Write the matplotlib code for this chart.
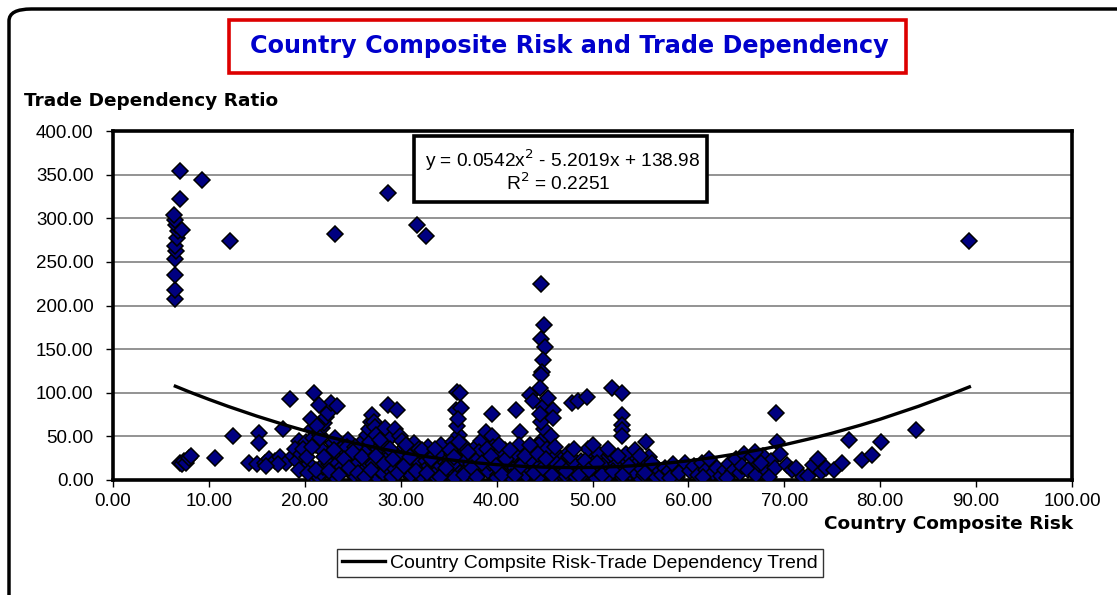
import matplotlib
matplotlib.use("Agg")
import matplotlib.pyplot as plt
from matplotlib.patches import FancyBboxPatch, Rectangle

plt.rcParams['font.family'] = ['Liberation Sans', 'DejaVu Sans']

# ---------------- data ----------------
high_x = [6.5, 6.5, 6.5, 6.5, 6.6, 6.5, 6.7, 6.8, 6.6, 6.5, 6.4, 7.2, 7.0, 7.0,
          9.3, 12.2, 23.2, 28.7, 31.7, 32.6, 44.6, 44.9, 44.6, 45.0, 44.8, 44.7, 44.6, 89.3]
high_y = [208, 218, 235, 253, 262, 268, 277, 285, 292, 298, 304, 286, 322, 354,
          344, 274, 282, 329, 292, 280, 225, 178, 162, 152, 138, 124, 120, 274]

left_x = [7.0, 7.2, 7.4, 7.6, 7.9, 8.1, 10.6, 12.5, 14.2, 15.0, 15.2, 15.2, 15.8, 16.3,
          16.9, 17.4, 17.7, 18.0, 18.5, 18.8, 19.4, 19.0, 17.2, 16.0]
left_y = [20, 18, 22, 19, 25, 27, 25, 50, 19, 18, 54, 42, 20, 24,
          22, 26, 58, 20, 93, 28, 45, 35, 18, 16]

main_x = [19.2, 19.6, 20.1, 20.4, 20.8, 19.8, 20.6, 19.4, 20.2, 20.9,
          21.1, 21.3, 21.5, 21.7, 21.9, 22.1, 22.3, 22.6, 22.8, 21.2, 21.4, 21.6, 21.8, 22.0,
          22.2, 22.4, 22.7, 21.0, 21.5, 22.1, 22.5, 21.9, 21.3, 22.9,
          23.1, 23.3, 23.5, 23.8, 24.0, 24.2, 24.5, 24.7, 24.9, 23.4, 23.9, 24.4, 23.2, 24.8,
          25.1, 25.3, 25.6, 25.8, 26.0, 26.2, 26.5, 26.7, 26.9, 25.4, 25.9, 26.4, 26.8, 25.2,
          26.1, 26.6,
          27.0, 27.2, 27.3, 27.5, 27.7, 27.9, 28.1, 28.3, 28.5, 28.7, 28.9, 27.1, 27.6, 28.0,
          28.4, 28.8, 27.4, 28.2, 28.6, 28.7,
          29.1, 29.3, 29.6, 29.8, 30.0, 30.2, 30.5, 30.7, 30.9, 29.4, 29.9, 30.4, 30.8, 29.6,
          30.1,
          31.1, 31.3, 31.5, 31.8, 32.0, 32.3, 32.5, 32.8, 31.4, 32.1, 32.6, 31.9, 32.9,
          33.1, 33.4, 33.7, 34.0, 34.3, 34.6, 34.9, 33.5, 34.2, 34.8, 33.9, 34.5,
          35.2, 35.4, 35.6, 35.9, 36.2, 36.4, 36.6, 36.9, 35.8, 36.3, 35.5, 36.1, 36.7, 35.9,
          36.2, 35.3, 36.5, 35.7, 36.8, 36.0,
          37.1, 37.3, 37.6, 37.9, 38.1, 38.4, 38.7, 38.9, 37.5, 38.2, 38.6, 37.8,
          39.1, 39.3, 39.5, 39.5, 39.8, 40.1, 40.4, 40.7, 40.9, 39.6, 40.3, 40.8, 40.0,
          41.1, 41.3, 41.6, 41.9, 42.0, 42.2, 42.4, 42.7, 42.9, 41.5, 42.3, 42.8, 41.8,
          43.1, 43.3, 43.5, 43.8, 44.0, 44.2, 44.5, 44.7, 44.9, 43.6, 44.1, 44.6, 43.9, 44.4,
          44.8, 44.5, 43.4, 44.3,
          45.1, 45.4, 45.6, 45.9, 45.9, 46.2, 46.5, 46.8, 45.3, 46.0, 46.6, 45.7, 46.3,
          47.1, 47.3, 47.6, 47.9, 48.2, 48.5, 48.8, 47.5, 48.3, 48.0, 48.7,
          49.1, 49.4, 49.7, 50.0, 50.3, 50.6, 50.9, 49.5, 50.4, 49.9, 50.7,
          51.1, 51.4, 51.7, 52.0, 52.3, 52.6, 52.9, 51.5, 52.4, 53.1, 51.9,
          53.1, 53.1, 53.1, 53.1, 53.3, 53.6, 53.9, 54.2, 54.5, 54.8, 53.5, 54.3, 54.7,
          55.1, 55.4, 55.6, 55.7, 56.0, 56.3, 56.6, 56.9, 55.9,
          57.2, 57.6, 58.0, 58.4, 58.8, 59.2, 59.6, 58.1, 59.0,
          60.2, 60.6, 61.0, 61.4, 61.8, 62.2, 62.6, 63.0, 61.5,
          63.4, 63.8, 64.2, 64.6, 65.0, 65.4, 65.8, 64.0, 65.6,
          66.2, 66.6, 67.0, 67.4, 67.8, 68.2, 68.6, 69.0, 69.1, 69.2, 66.9, 68.4, 67.6, 69.6]
main_y = [22, 30, 44, 18, 58, 36, 70, 12, 26, 48,
          2, 5, 3, 8, 15, 20, 24, 30, 35, 40, 45, 52, 60, 65,
          72, 77, 88, 100, 86, 28, 18, 33, 62, 42,
          4, 12, 20, 28, 35, 40, 46, 30, 22, 85, 15, 38, 48, 8,
          6, 14, 24, 32, 40, 46, 52, 58, 66, 18, 28, 36, 44, 38,
          10, 20,
          74, 67, 61, 4, 12, 22, 30, 38, 45, 55, 48, 18, 35, 42,
          60, 26, 52, 8, 15, 86,
          4, 14, 80, 22, 30, 36, 42, 25, 18, 58, 50, 10, 32, 28,
          45,
          6, 15, 24, 32, 20, 12, 28, 38, 42, 5, 22, 35, 16,
          10, 20, 28, 14, 24, 35, 18, 6, 40, 26, 30, 8,
          5, 12, 20, 101, 100, 28, 36, 15, 80, 82, 44, 52, 22, 62,
          8, 30, 40, 2, 10, 70,
          8, 18, 28, 38, 15, 45, 25, 55, 4, 32, 12, 22,
          10, 20, 76, 50, 28, 6, 16, 24, 34, 38, 30, 12, 2,
          8, 18, 28, 14, 80, 24, 55, 34, 10, 4, 40, 20, 30,
          6, 16, 97, 90, 26, 36, 105, 46, 58, 12, 20, 67, 30, 40,
          84, 76, 22, 2,
          10, 94, 20, 80, 71, 30, 14, 24, 36, 4, 8, 50, 18,
          6, 16, 26, 88, 12, 90, 22, 32, 4, 18, 10,
          8, 95, 18, 28, 12, 24, 6, 35, 2, 14, 30,
          10, 20, 28, 105, 14, 24, 6, 4, 18, 100, 30,
          74, 63, 57, 50, 12, 22, 8, 26, 16, 4, 30, 10, 20,
          14, 6, 44, 22, 10, 18, 4, 12, 26,
          6, 14, 10, 18, 4, 12, 20, 2, 8,
          10, 16, 6, 20, 12, 24, 8, 14, 3,
          5, 12, 18, 10, 24, 8, 30, 2, 16,
          12, 26, 6, 18, 28, 10, 22, 14, 77, 44, 32, 4, 20, 30]

dense_x = [20.3, 20.7, 21.2, 21.6, 22.0, 22.5, 23.0, 23.6, 24.1, 24.6,
           25.0, 25.5, 26.0, 26.3, 26.9, 27.4, 27.8, 28.3, 28.9, 29.2,
           29.7, 30.3, 30.6, 31.0, 31.6, 32.2, 32.7, 33.2, 33.6, 34.1,
           34.7, 35.1, 35.6, 36.1, 36.6, 37.0, 37.4, 38.0, 38.5, 39.0,
           39.4, 39.9, 40.2, 40.6, 41.0, 41.4, 41.9, 42.5, 43.0, 43.5,
           43.9, 44.3, 44.8, 45.2, 45.8, 46.1, 46.7, 47.2, 47.7, 48.1,
           48.6, 49.2, 49.6, 50.1, 50.5, 51.0, 51.6, 52.1, 52.7, 53.2,
           53.8, 54.4, 55.0, 55.5, 56.2]
dense_y = [8, 38, 12, 48, 26, 10, 34, 6, 24, 14,
           32, 8, 26, 4, 12, 28, 46, 18, 36, 24,
           8, 16, 40, 26, 10, 34, 8, 24, 36, 4,
           14, 34, 26, 44, 6, 32, 14, 4, 20, 36,
           28, 16, 40, 6, 24, 34, 6, 16, 28, 40,
           8, 30, 14, 24, 6, 38, 16, 10, 28, 36,
           6, 22, 12, 40, 20, 6, 36, 10, 28, 6,
           16, 34, 28, 8, 20]

right_x = [70.3, 70.8, 71.2, 72.0, 72.5, 73.0, 73.5, 73.8, 74.4, 75.2, 76.0, 76.7,
           78.1, 79.1, 80.1, 83.7]
right_y = [17, 12, 14, 3, 5, 17, 24, 9, 14, 12, 19, 46, 23, 29, 43, 57]

trend_x = [6.5, 8, 10, 12, 15, 18, 20, 22, 25, 28, 30, 33, 35, 38, 40, 43, 45, 48, 50,
           53, 55, 58, 60, 63, 65, 68, 70, 73, 75, 78, 80, 84, 87, 89.3]
trend_y = [107.5, 100.8, 92.4, 84.4, 73.2, 62.9, 56.6, 50.8, 42.8, 35.8, 31.7, 26.3,
           23.3, 19.6, 17.6, 15.5, 14.7, 14.2, 14.4, 15.5, 16.8, 19.6, 22.0, 26.4, 29.9,
           35.9, 40.4, 48.1, 53.7, 63.0, 69.7, 84.5, 96.7, 106.7]

x_ticks = [0, 10, 20, 30, 40, 50, 60, 70, 80, 90, 100]
y_ticks = [0, 50, 100, 150, 200, 250, 300, 350, 400]

title_text = "Country Composite Risk and Trade Dependency"
x_label = "Country Composite Risk"
y_label = "Trade Dependency Ratio"
legend_label = "Country Compsite Risk-Trade Dependency Trend"
eq_line1 = "y = 0.0542x$^{2}$ - 5.2019x + 138.98"
eq_line2 = "R$^{2}$ = 0.2251"

# ---------------- figure ----------------
W, H = 1117, 595
fig = plt.figure(figsize=(W / 100, H / 100), dpi=100)
fig.patch.set_facecolor('white')

def fx(px):
    return px / W

def fy(py):
    return 1 - py / H

# outer rounded border
border = FancyBboxPatch((fx(9), fy(640)), fx(1200) - fx(9), fy(9) - fy(640),
                        boxstyle="round,pad=0,rounding_size=0.02",
                        transform=fig.transFigure, fill=False,
                        edgecolor='black', linewidth=2.5, zorder=0)
fig.patches.append(border)

ax = fig.add_axes([fx(113), fy(480), fx(1072) - fx(113), fy(131) - fy(480)])
ax.set_xlim(0, 100)
ax.set_ylim(0, 400)

ax.set_axisbelow(True)
ax.yaxis.grid(True, color='#808080', linewidth=1.2)
ax.xaxis.grid(False)

scat_x = high_x + left_x + main_x + dense_x + right_x
scat_y = high_y + left_y + main_y + dense_y + right_y
ax.plot(scat_x, scat_y, linestyle='none', marker='D', markersize=7.8,
        markerfacecolor='#000080', markeredgecolor='black', markeredgewidth=1.1,
        label='_nolegend_', zorder=3)
ax.plot(trend_x, trend_y, color='black', linewidth=2.4, label=legend_label, zorder=4)

for sp in ax.spines.values():
    sp.set_linewidth(2.6)
    sp.set_color('black')

ax.set_xticks(x_ticks)
ax.set_yticks(y_ticks)
ax.set_xticklabels([f"{v:.2f}" for v in x_ticks])
ax.set_yticklabels([f"{v:.2f}" for v in y_ticks])
ax.tick_params(axis='both', direction='out', length=5, width=1, labelsize=13.5,
               colors='black')
ax.tick_params(axis='y', pad=9)
ax.tick_params(axis='x', pad=4)

# title box
fig.patches.append(Rectangle((fx(229), fy(73)), fx(906) - fx(229), fy(20) - fy(73),
                             transform=fig.transFigure, fill=False,
                             edgecolor='#DD0000', linewidth=2.6))
fig.text(fx(569), fy(46), title_text, ha='center', va='center', color='#0000CC',
         fontsize=17.2, fontweight='bold', family='DejaVu Sans')

fig.text(fx(24), fy(101), y_label, ha='left', va='center', fontsize=13.3,
         fontweight='bold', color='black', family='DejaVu Sans')
fig.text(fx(1073), fy(524), x_label, ha='right', va='center', fontsize=13.3,
         fontweight='bold', color='black', family='DejaVu Sans')

# equation box
fig.patches.append(Rectangle((fx(414), fy(202)), fx(707) - fx(414), fy(136) - fy(202),
                             transform=fig.transFigure, facecolor='white',
                             edgecolor='black', linewidth=2.6, zorder=5))
fig.text(fx(563), fy(160), eq_line1, ha='center', va='center', fontsize=13.8, zorder=6)
fig.text(fx(558), fy(183), eq_line2, ha='center', va='center', fontsize=13.8, zorder=6)

leg = fig.legend(loc='center', bbox_to_anchor=(fx(580), fy(563)), frameon=True,
                 fancybox=False, edgecolor='black', fontsize=14, handlelength=2.2,
                 borderpad=0.25, handletextpad=0.3)
leg.get_frame().set_linewidth(1.0)

fig.savefig('out.png', dpi=100)
